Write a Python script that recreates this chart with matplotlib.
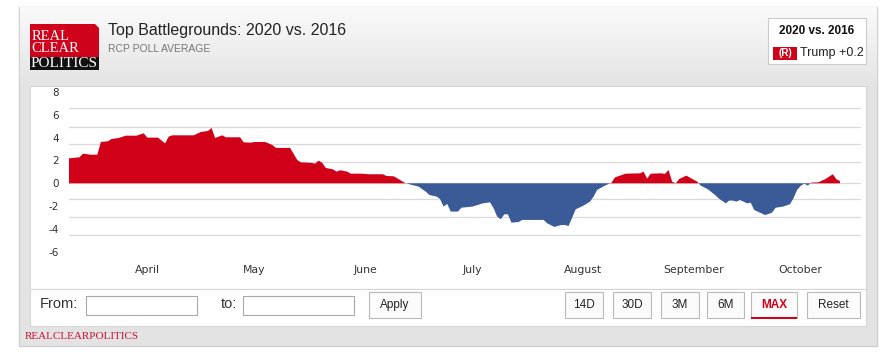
import numpy as np
import pandas as pd
import matplotlib
matplotlib.use("Agg")
import matplotlib.pyplot as plt
import matplotlib.dates as mdates
from matplotlib.patches import Rectangle, Polygon

# ================================
# Datos (RCP, 2020 vs 2016, margen)
# ================================

fechas = [
    "2020-03-10", "2020-03-13", "2020-03-14", "2020-03-16", "2020-03-18", "2020-03-19",
    "2020-03-21", "2020-03-22", "2020-03-24", "2020-03-26", "2020-03-29", "2020-03-31",
    "2020-04-01", "2020-04-04", "2020-04-06", "2020-04-07", "2020-04-08", "2020-04-14",
    "2020-04-16", "2020-04-18", "2020-04-19", "2020-04-20", "2020-04-22", "2020-04-23",
    "2020-04-27", "2020-04-28", "2020-04-30", "2020-05-01", "2020-05-04", "2020-05-06",
    "2020-05-07", "2020-05-11", "2020-05-13", "2020-05-14", "2020-05-17", "2020-05-18",
    "2020-05-19", "2020-05-20", "2020-05-21", "2020-05-23", "2020-05-24", "2020-05-25",
    "2020-05-27", "2020-05-28", "2020-05-31", "2020-06-02", "2020-06-06", "2020-06-07",
    "2020-06-09", "2020-06-10", "2020-06-12", "2020-06-13", "2020-06-16", "2020-06-18",
    "2020-06-19", "2020-06-21", "2020-06-22", "2020-06-23", "2020-06-24", "2020-06-25",
    "2020-06-27", "2020-06-28", "2020-07-01", "2020-07-04", "2020-07-06", "2020-07-07",
    "2020-07-08", "2020-07-09", "2020-07-10", "2020-07-11", "2020-07-12", "2020-07-14",
    "2020-07-15", "2020-07-21", "2020-07-22", "2020-07-24", "2020-07-26", "2020-07-27",
    "2020-07-28", "2020-07-30", "2020-08-01", "2020-08-03", "2020-08-04", "2020-08-05",
    "2020-08-07", "2020-08-09", "2020-08-10", "2020-08-13", "2020-08-17", "2020-08-18",
    "2020-08-19", "2020-08-20", "2020-08-23", "2020-08-24", "2020-08-25", "2020-08-26",
    "2020-08-27", "2020-08-28", "2020-08-30", "2020-08-31", "2020-09-02", "2020-09-03",
    "2020-09-05", "2020-09-07", "2020-09-08", "2020-09-10", "2020-09-11", "2020-09-12",
    "2020-09-13", "2020-09-14", "2020-09-16", "2020-09-17", "2020-09-18", "2020-09-20",
    "2020-09-21", "2020-09-22", "2020-09-23", "2020-09-24", "2020-09-26", "2020-09-28",
    "2020-09-29", "2020-09-30", "2020-10-01", "2020-10-02", "2020-10-03", "2020-10-04",
    "2020-10-06", "2020-10-08", "2020-10-10", "2020-10-11", "2020-10-12",
]

margen = [
    2.18, 2.27, 2.59, 2.50, 2.50, 3.61,
    3.67, 3.87, 3.96, 4.16, 4.16, 4.37,
    3.99, 3.99, 3.49, 4.08, 4.19, 4.19,
    4.48, 4.57, 4.83, 3.96, 4.19, 4.02,
    4.02, 3.58, 3.55, 3.61, 3.61, 3.35,
    3.09, 3.09, 2.04, 1.83, 1.78, 1.72,
    1.98, 1.78, 1.34, 1.22, 1.02, 1.14,
    1.02, 0.84, 0.84, 0.79, 0.79, 0.64,
    0.61, 0.44, 0.06, -0.05, -0.29, -0.73,
    -1.02, -1.16, -1.37, -2.04, -1.80, -2.47,
    -2.47, -2.13, -2.04, -1.75, -1.66, -2.18,
    -2.91, -3.14, -2.71, -2.71, -3.44, -3.38,
    -3.20, -3.20, -3.49, -3.81, -3.64, -3.64,
    -3.73, -2.27, -1.98, -1.60, -1.16, -0.58,
    -0.23, 0.05, 0.52, 0.84, 0.87, 1.02,
    0.41, 0.84, 0.87, 0.82, 1.16, 0.15,
    0.00, 0.38, 0.67, 0.49, 0.15, -0.20,
    -0.52, -1.02, -1.31, -1.75, -1.51, -1.51,
    -1.60, -1.46, -1.75, -1.69, -2.33, -2.62,
    -2.77, -2.68, -2.56, -2.13, -2.04, -1.83,
    -1.31, -0.58, -0.23, -0.02, -0.20, 0.06,
    0.09, 0.38, 0.79, 0.35, 0.20,
]

ticks_y = [8, 6, 4, 2, 0, -2, -4, -6]
meses = ["April", "May", "June", "July", "August", "September", "October"]
inicio_meses = ["2020-04-01", "2020-05-01", "2020-06-01", "2020-07-01",
                "2020-08-01", "2020-09-01", "2020-10-01"]
# lineas de fondo (no coinciden con las etiquetas, igual que en la captura)
lineas_grid = [6.55, 4.95, 3.40, 1.85, 0.0, -1.37, -2.94, -4.54]
botones = ["14D", "30D", "3M", "6M", "MAX", "Reset"]

ROJO = "#d10019"
AZUL = "#3b5a98"

x = mdates.date2num(pd.to_datetime(fechas))
v = np.array(margen)

# ================================
# Figura y fondo (coordenadas en pixeles)
# ================================

fig = plt.figure(figsize=(8.8, 3.54), dpi=100)
fig.patch.set_facecolor("white")

bg = fig.add_axes([0, 0, 1, 1])
bg.set_xlim(0, 880)
bg.set_ylim(354, 0)
bg.axis("off")

# contenedor gris
bg.add_patch(Rectangle((19, 7), 858, 339, facecolor="#e3e3e3", edgecolor="#cfcfcf", lw=1))
# degradado de la cabecera
grad = np.linspace(0, 1, 100).reshape(-1, 1)
bg.imshow(grad, extent=(19.5, 876.5, 86, 7.5), cmap=plt.matplotlib.colors.LinearSegmentedColormap.from_list(
    "g", ["#fafafa", "#e4e4e4"]), aspect="auto", zorder=1)

# panel blanco del grafico
bg.add_patch(Rectangle((30, 86), 836, 203, facecolor="white", edgecolor="#d6d6d6", lw=0.8, zorder=2))
# barra de controles
bg.add_patch(Rectangle((30, 289), 836, 37, facecolor="white", edgecolor="#d6d6d6", lw=0.8, zorder=2))

# logo
bg.add_patch(Rectangle((30, 24), 69, 33, facecolor="#d0021b", lw=0, zorder=3))
bg.add_patch(Rectangle((30, 57), 69, 13, facecolor="#111111", lw=0, zorder=3))
bg.add_patch(Polygon([(95, 24), (99, 24), (99, 28)], closed=True, facecolor="#f2f2f2", lw=0, zorder=4))
bg.text(31.5, 36.5, "REAL", color="white", family="Liberation Serif", fontsize=10.5, va="center", zorder=5)
bg.text(31.5, 49, "CLEAR", color="white", family="Liberation Serif", fontsize=10.5, va="center", zorder=5)
bg.text(30.5, 63.5, "POLITICS", color="white", family="Liberation Serif", fontsize=11, va="center", zorder=5)

# titulos
bg.text(108, 31, "Top Battlegrounds: 2020 vs. 2016", color="#222222",
        family="Liberation Sans", fontsize=11.5, va="center", zorder=5)
bg.text(108, 49, "RCP POLL AVERAGE", color="#777777",
        family="Liberation Sans", fontsize=7.5, va="center", zorder=5)

# recuadro de leyenda
bg.add_patch(Rectangle((768, 18), 98, 46, facecolor="white", edgecolor="#cccccc", lw=0.8, zorder=3))
bg.text(817, 31.5, "2020 vs. 2016", color="#111111", family="Liberation Sans",
        fontsize=8.5, fontweight="bold", ha="center", va="center", zorder=5)
bg.add_patch(Rectangle((773, 47), 24, 12.5, facecolor="#d0021b", lw=0, zorder=4))
bg.text(785, 53.3, "(R)", color="white", family="Liberation Sans", fontsize=7,
        fontweight="bold", ha="center", va="center", zorder=5)
bg.text(800.5, 53.3, "Trump +0.2", color="#222222", family="Liberation Sans",
        fontsize=9, va="center", zorder=5)

# controles
narrow = ["Liberation Sans Narrow", "Liberation Sans"]
bg.text(40, 304.5, "From:", color="#333333", family=narrow, fontsize=10.5, va="center", zorder=5)
bg.add_patch(Rectangle((86, 296), 111, 19, facecolor="white", edgecolor="#a9a9a9", lw=0.8, zorder=4))
bg.text(221, 304.5, "to:", color="#333333", family=narrow, fontsize=10.5, va="center", zorder=5)
bg.add_patch(Rectangle((243, 296), 111, 19, facecolor="white", edgecolor="#a9a9a9", lw=0.8, zorder=4))
bg.add_patch(Rectangle((369, 292), 52, 26, facecolor="#fbfbfb", edgecolor="#b9b9b9", lw=0.8, zorder=4))
bg.text(395, 305, "Apply", color="#222222", family=narrow, fontsize=8.5, ha="center", va="center", zorder=5)

pos_botones = [(565, 38), (613, 38), (661, 38), (707, 37), (751, 46), (807, 53)]
for nombre, (bx, bw) in zip(botones, pos_botones):
    bg.add_patch(Rectangle((bx, 292), bw, 26, facecolor="#fbfbfb", edgecolor="#b9b9b9", lw=0.8, zorder=4))
    if nombre == "MAX":
        bg.text(bx + bw / 2, 305, nombre, color=ROJO, family=narrow, fontsize=8.5,
                fontweight="bold", ha="center", va="center", zorder=5)
        bg.add_patch(Rectangle((bx, 316.5), bw, 2.2, facecolor=ROJO, lw=0, zorder=5))
    else:
        bg.text(bx + bw / 2, 305, nombre, color="#222222", family=narrow, fontsize=8.5,
                ha="center", va="center", zorder=5)

bg.text(25, 336.5, "REALCLEARPOLITICS", color="#c8102e", family="Liberation Serif",
        fontsize=8, va="center", zorder=5)

# ================================
# Grafico de areas
# ================================

ax = fig.add_axes([69 / 880, (354 - 262) / 354, 792 / 880, (262 - 88) / 354])
ax.patch.set_alpha(0)
ax.set_zorder(3)

for g in lineas_grid:
    ax.axhline(g, color="#dadada", lw=0.9, zorder=1)

ax.fill_between(x, v, 0, where=v >= 0, interpolate=True, color=ROJO, lw=0, zorder=2)
ax.fill_between(x, v, 0, where=v <= 0, interpolate=True, color=AZUL, lw=0, zorder=2)

abril = mdates.date2num(pd.Timestamp("2020-04-01"))
ax.set_xlim(abril - 21.93, abril + 199.9)
ax.set_ylim(-6.873, 8.323)

ax.set_yticks(ticks_y)
ax.set_yticklabels([str(t) for t in ticks_y])
ax.set_xticks(mdates.date2num(pd.to_datetime(inicio_meses)))
ax.set_xticklabels(meses)
ax.tick_params(axis="y", length=0, pad=7, labelsize=7.5, labelcolor="#333333")
ax.tick_params(axis="x", length=0, pad=2.5, labelsize=7.8, labelcolor="#333333")
for s in ax.spines.values():
    s.set_visible(False)

fig.savefig("out.png", dpi=100)
